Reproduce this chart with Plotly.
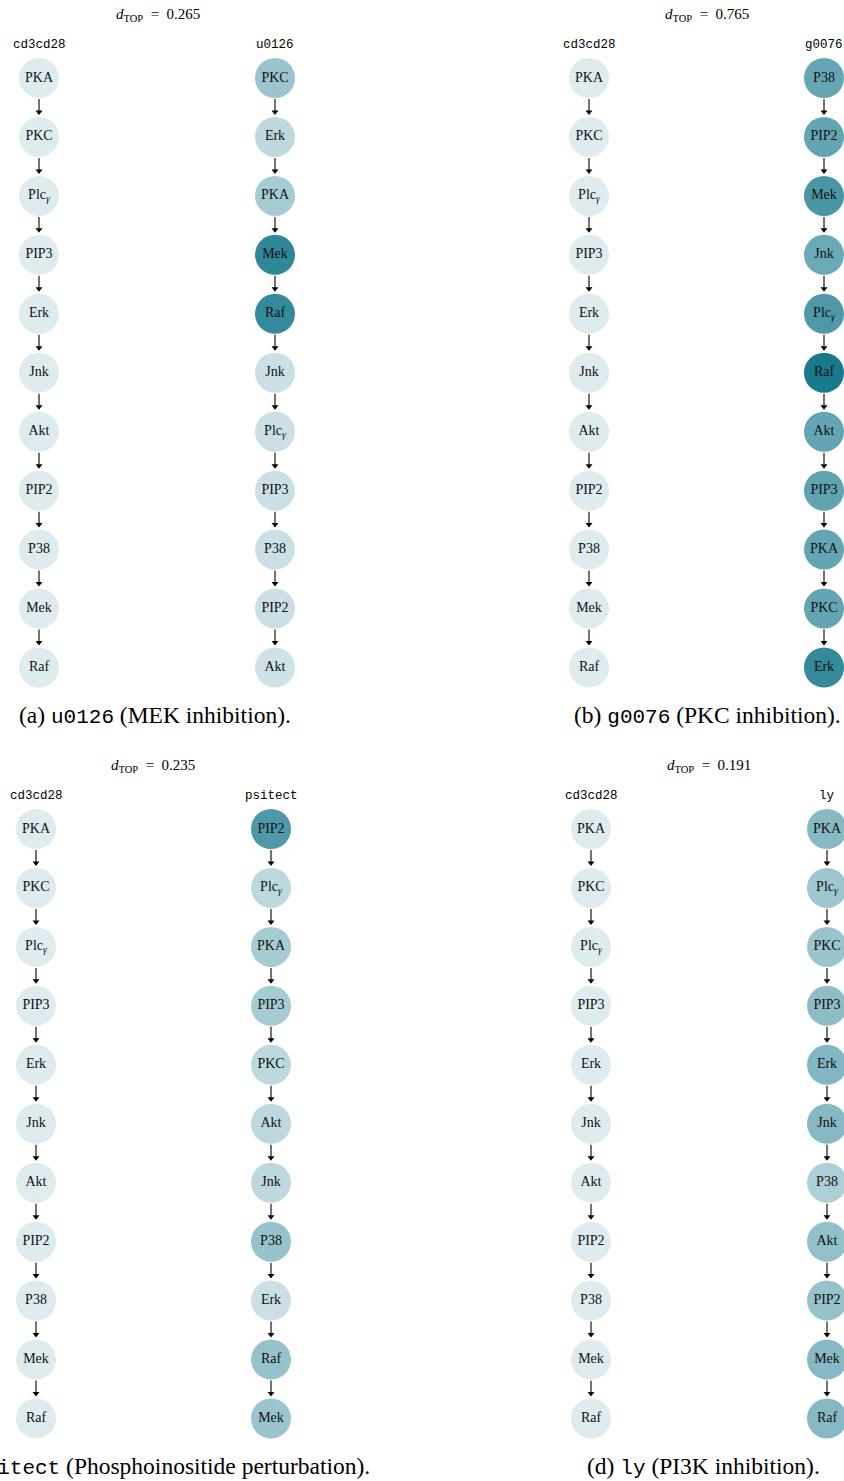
import plotly.graph_objects as go

# Node orderings (top to bottom) and shading intensity (0 = light, 1 = dark)
CD3CD28_ORDER = ["PKA", "PKC", "Plcg", "PIP3", "Erk", "Jnk", "Akt", "PIP2", "P38", "Mek", "Raf"]
CD3CD28_SHADE = [0.05, 0.05, 0.05, 0.05, 0.05, 0.05, 0.05, 0.05, 0.05, 0.05, 0.05]

U0126_ORDER = ["PKC", "Erk", "PKA", "Mek", "Raf", "Jnk", "Plcg", "PIP3", "P38", "PIP2", "Akt"]
U0126_SHADE = [0.40, 0.22, 0.34, 0.90, 0.88, 0.15, 0.15, 0.15, 0.15, 0.15, 0.13]

G0076_ORDER = ["P38", "PIP2", "Mek", "Jnk", "Plcg", "Raf", "Akt", "PIP3", "PKA", "PKC", "Erk"]
G0076_SHADE = [0.65, 0.66, 0.78, 0.63, 0.76, 1.00, 0.66, 0.68, 0.66, 0.66, 0.88]

PSITECT_ORDER = ["PIP2", "Plcg", "PKA", "PIP3", "PKC", "Akt", "Jnk", "P38", "Erk", "Raf", "Mek"]
PSITECT_SHADE = [0.76, 0.22, 0.34, 0.34, 0.22, 0.22, 0.22, 0.42, 0.15, 0.42, 0.40]

LY_ORDER = ["PKA", "Plcg", "PKC", "PIP3", "Erk", "Jnk", "P38", "Akt", "PIP2", "Mek", "Raf"]
LY_SHADE = [0.50, 0.38, 0.40, 0.46, 0.52, 0.50, 0.30, 0.44, 0.42, 0.50, 0.50]

D_TOP = [0.265, 0.765, 0.235, 0.191]
CONDITIONS = ["u0126", "g0076", "psitect", "ly"]
DESCRIPTIONS = ["MEK inhibition", "PKC inhibition", "Phosphoinositide perturbation", "PI3K inhibition"]
PANEL_LETTERS = ["a", "b", "c", "d"]

TREATED = [(U0126_ORDER, U0126_SHADE), (G0076_ORDER, G0076_SHADE),
           (PSITECT_ORDER, PSITECT_SHADE), (LY_ORDER, LY_SHADE)]

# Panel geometry: left column x, right column x, first row y, title x, caption right edge
PANELS = [
    dict(xl=39, xr=275, y0=78, tx=158, cr=293),
    dict(xl=589, xr=824, y0=78, tx=707, cr=843),
    dict(xl=36, xr=271, y0=829, tx=153, cr=372),
    dict(xl=591, xr=827, y0=829, tx=709, cr=822),
]
ROW_STEP = 58.95
RADIUS = 20

SERIF = "Liberation Serif, Times New Roman, serif"
MONO = "Liberation Mono, DejaVu Sans Mono, monospace"
COLORSCALE = [[0.0, "#e8f1f4"], [0.5, "#86b9c4"], [1.0, "#1a7a8d"]]


def label(name):
    return "Plc<sub><i>γ</i></sub>" if name == "Plcg" else name


fig = go.Figure()
annotations = []
shaft_x, shaft_y, head_x, head_y = [], [], [], []

for k, p in enumerate(PANELS):
    columns = [(p["xl"], CD3CD28_ORDER, CD3CD28_SHADE, "cd3cd28"),
               (p["xr"], TREATED[k][0], TREATED[k][1], CONDITIONS[k])]
    for x, order, shade, cond in columns:
        ys = [p["y0"] + i * ROW_STEP for i in range(len(order))]
        # edges between consecutive nodes
        for i in range(len(order) - 1):
            top = ys[i] + RADIUS + 1
            bottom = ys[i + 1] - RADIUS - 2
            shaft_x += [x, x, None]
            shaft_y += [top, bottom - 4, None]
            head_x.append(x)
            head_y.append(bottom - 3)
        fig.add_trace(go.Scatter(
            x=[x] * len(order), y=ys, mode="markers+text",
            marker=dict(size=2 * RADIUS, color=shade, colorscale=COLORSCALE,
                        cmin=0, cmax=1, line=dict(width=0)),
            text=[label(n) for n in order], textposition="middle center",
            textfont=dict(family=SERIF, size=14, color="#111111"),
            hoverinfo="text", showlegend=False))
        annotations.append(dict(
            x=x, y=p["y0"] - 33, xref="x", yref="y", showarrow=False,
            text=cond, font=dict(family=MONO, size=12.5, color="black")))
    # title with distance value
    annotations.append(dict(
        x=p["tx"], y=p["y0"] - 63, xref="x", yref="y", showarrow=False,
        text=f"<i>d</i><sub>TOP</sub>  =  {D_TOP[k]:.3f}",
        font=dict(family=SERIF, size=15, color="black")))
    # caption
    annotations.append(dict(
        x=p["cr"], y=p["y0"] + 637, xref="x", yref="y", showarrow=False,
        xanchor="right",
        text=(f"({PANEL_LETTERS[k]}) <span style='font-family:Liberation Mono;font-size:21px'>"
              f"{CONDITIONS[k]}</span> ({DESCRIPTIONS[k]})."),
        font=dict(family=SERIF, size=23.5, color="black")))

fig.add_trace(go.Scatter(
    x=shaft_x, y=shaft_y, mode="lines", line=dict(color="black", width=1.1),
    hoverinfo="skip", showlegend=False))
fig.add_trace(go.Scatter(
    x=head_x, y=head_y, mode="markers",
    marker=dict(symbol="triangle-down", size=6, color="black", line=dict(width=0)),
    hoverinfo="skip", showlegend=False))

fig.update_layout(
    width=844, height=1481,
    margin=dict(l=0, r=0, t=0, b=0),
    paper_bgcolor="white", plot_bgcolor="white",
    xaxis=dict(range=[0, 844], visible=False, fixedrange=True),
    yaxis=dict(range=[1481, 0], visible=False, fixedrange=True),
    annotations=annotations,
)

fig.write_html("out.html")
